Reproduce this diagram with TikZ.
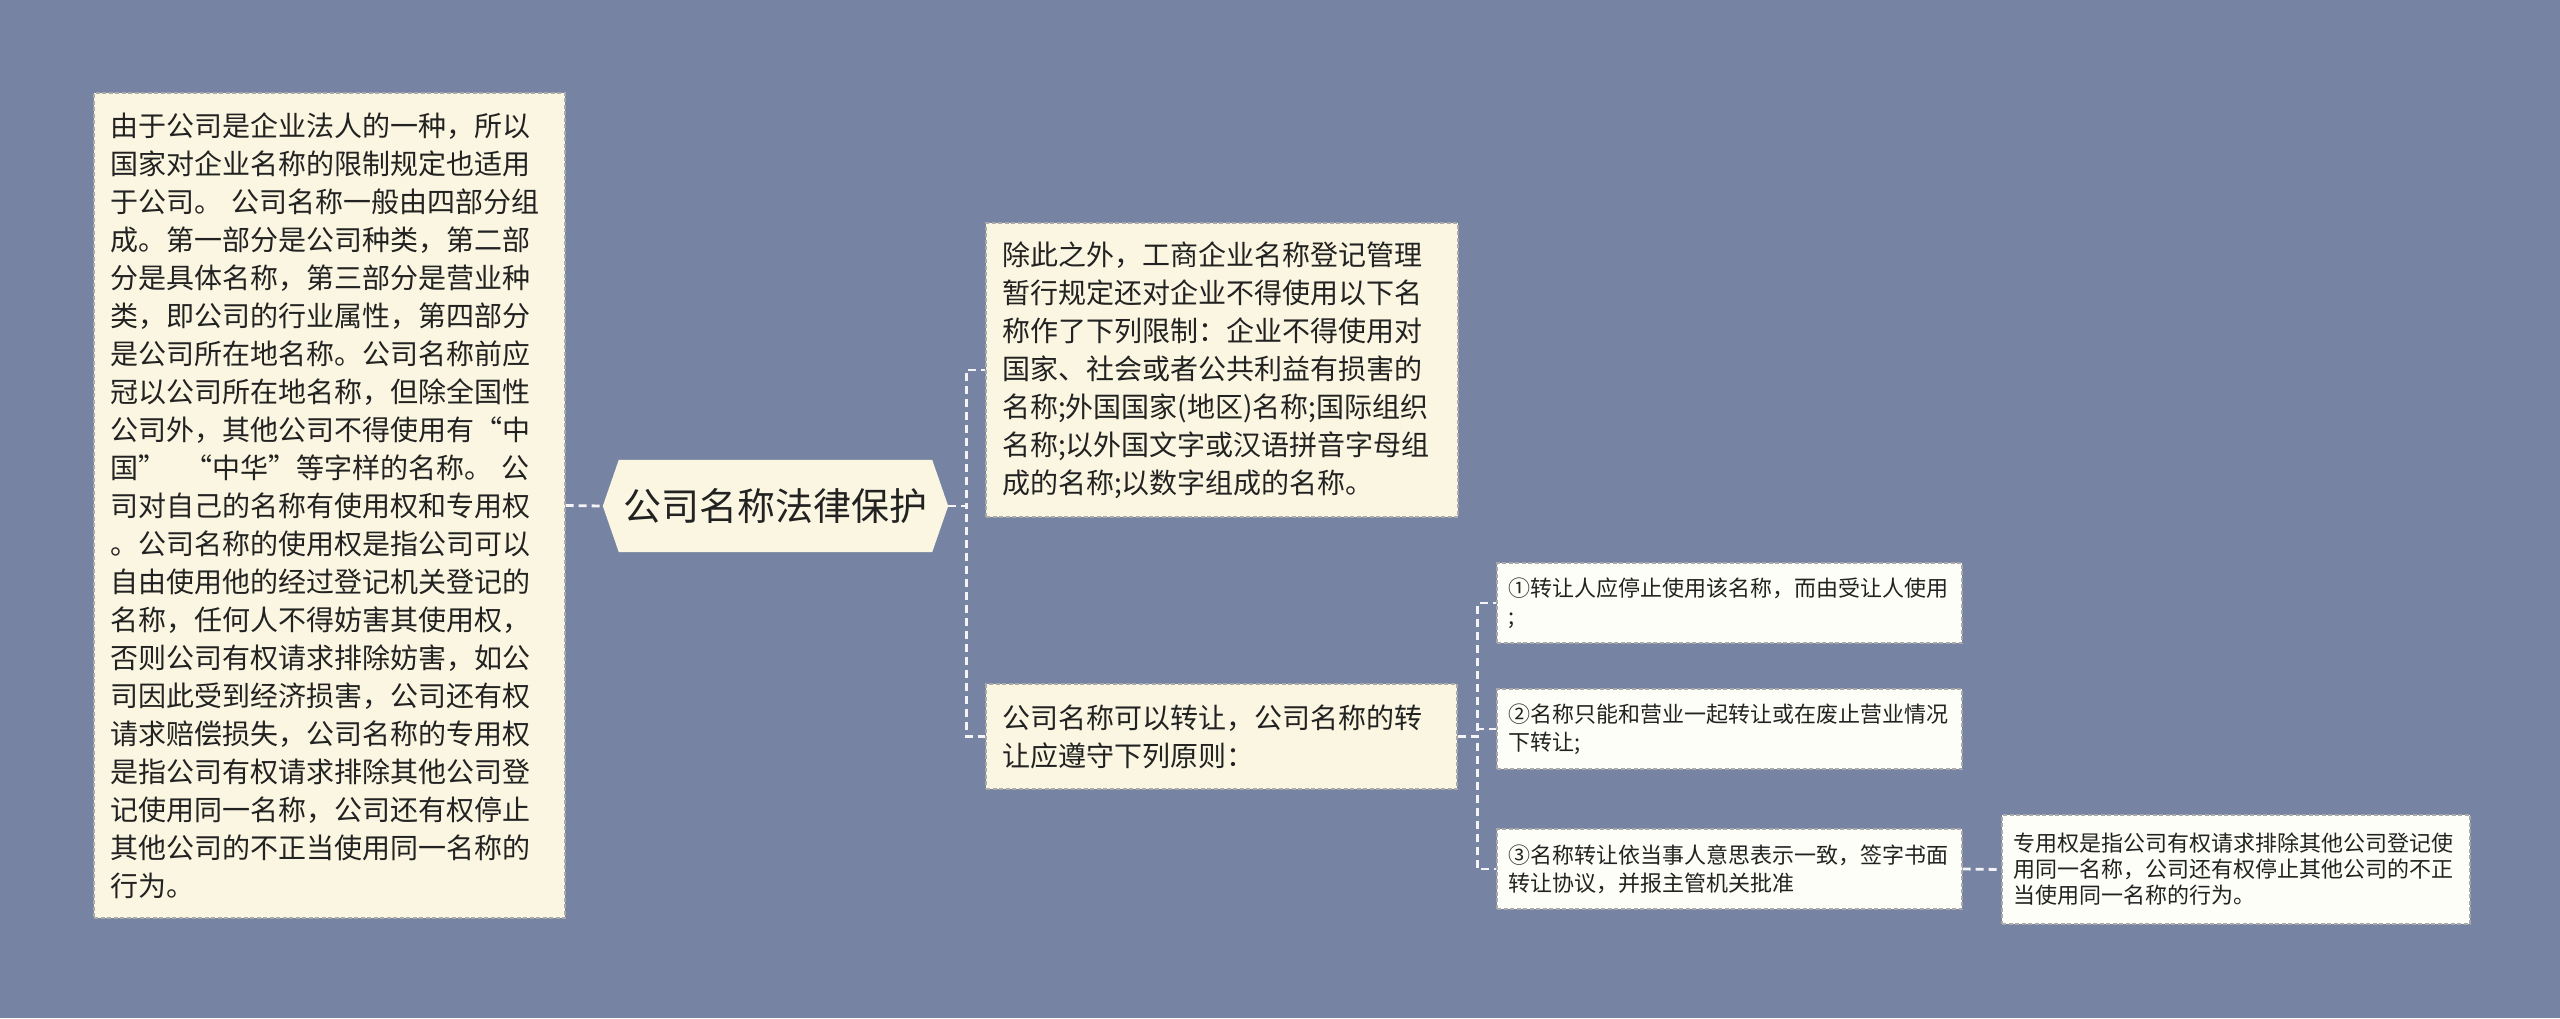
\documentclass[tikz,border=0pt]{standalone}
\usepackage{fontspec}
\setmainfont{Noto Sans CJK SC}
\usetikzlibrary{backgrounds}
\definecolor{bg}{HTML}{7683A3}
\definecolor{cream}{HTML}{FAF6E1}
\definecolor{paper}{HTML}{FEFEF8}
\definecolor{edge}{HTML}{A9A9A9}
\definecolor{linkc}{HTML}{F4F4F6}
\definecolor{ink}{HTML}{222222}
\begin{document}
\begin{tikzpicture}[x=1pt,y=-1pt,
  basebox/.style={draw=edge, dash pattern=on 4pt off 2.5pt, line width=1.3pt, inner ysep=0pt, align=left, text=ink, anchor=center},
  bigbox/.style={basebox, fill=cream, inner xsep=16pt, font=\fontsize{28pt}{38pt}\selectfont},
  smallbox/.style={basebox, fill=paper, inner xsep=11pt, font=\fontsize{22pt}{28pt}\selectfont},
  linkline/.style={draw=linkc, line width=2.8pt, dash pattern=on 8pt off 5pt},
  rootnode/.style={inner sep=0pt, text=ink, font=\fontsize{38pt}{44pt}\selectfont, minimum width=313pt, minimum height=92pt}
]
\useasboundingbox (0,0) rectangle (2560,1018);

\node[bigbox, text width=439pt, minimum width=471pt, minimum height=825pt] (L) at (329.5,505.5) {由于公司是企业法人的一种，所以\\国家对企业名称的限制规定也适用\\于公司。 公司名称一般由四部分组\\成。第一部分是公司种类，第二部\\分是具体名称，第三部分是营业种\\类，即公司的行业属性，第四部分\\是公司所在地名称。公司名称前应\\冠以公司所在地名称，但除全国性\\公司外，其他公司不得使用有“中\\国”\ \ “中华”等字样的名称。 公\\司对自己的名称有使用权和专用权\\。公司名称的使用权是指公司可以\\自由使用他的经过登记机关登记的\\名称，任何人不得妨害其使用权，\\否则公司有权请求排除妨害，如公\\司因此受到经济损害，公司还有权\\请求赔偿损失，公司名称的专用权\\是指公司有权请求排除其他公司登\\记使用同一名称，公司还有权停止\\其他公司的不正当使用同一名称的\\行为。};

\node[rootnode] (C) at (775.5,506) {公司名称法律保护};
\coordinate (cl) at ([xshift=-16pt]C.west);
\coordinate (cr) at ([xshift=16pt]C.east);

\node[bigbox, text width=440pt, minimum width=472pt, minimum height=294pt] (R1) at (1222,370) {除此之外，工商企业名称登记管理\\暂行规定还对企业不得使用以下名\\称作了下列限制：企业不得使用对\\国家、社会或者公共利益有损害的\\名称;外国国家(地区)名称;国际组织\\名称;以外国文字或汉语拼音字母组\\成的名称;以数字组成的名称。};

\node[bigbox, text width=439pt, minimum width=471pt, minimum height=105pt] (R2) at (1221.5,736.5) {公司名称可以转让，公司名称的转\\让应遵守下列原则：};

\node[smallbox, text width=443pt, minimum width=465pt, minimum height=80pt] (A) at (1729.5,603) {①转让人应停止使用该名称，而由受让人使用\\;};
\node[smallbox, text width=443pt, minimum width=465pt, minimum height=80pt] (B) at (1729.5,729) {②名称只能和营业一起转让或在废止营业情况\\下转让;};
\node[smallbox, text width=443pt, minimum width=465pt, minimum height=80pt] (Cc) at (1729.5,869) {③名称转让依当事人意思表示一致，签字书面\\转让协议，并报主管机关批准};

\node[smallbox, text width=446pt, minimum width=468pt, minimum height=109pt, font=\fontsize{22pt}{26pt}\selectfont] (D) at (2236,869.5) {专用权是指公司有权请求排除其他公司登记使\\用同一名称，公司还有权停止其他公司的不正\\当使用同一名称的行为。};

\draw[linkline] (L.east) -- (cl);
\draw[linkline] (cr) -- ++(18,0) |- (R1.west);
\draw[linkline] (cr) -- ++(18,0) |- (R2.west);
\draw[linkline] (R2.east) -- ++(20,0) |- (A.west);
\draw[linkline] (R2.east) -- ++(20,0) |- (B.west);
\draw[linkline] (R2.east) -- ++(20,0) |- (Cc.west);
\draw[linkline] (Cc.east) -- (D.west);

\begin{scope}[on background layer]
\fill[bg] (0,0) rectangle (2560,1018);
\fill[cream] (C.north west) -- (C.north east) -- (cr) -- (C.south east) -- (C.south west) -- (cl) -- cycle;
\end{scope}
\end{tikzpicture}
\end{document}
